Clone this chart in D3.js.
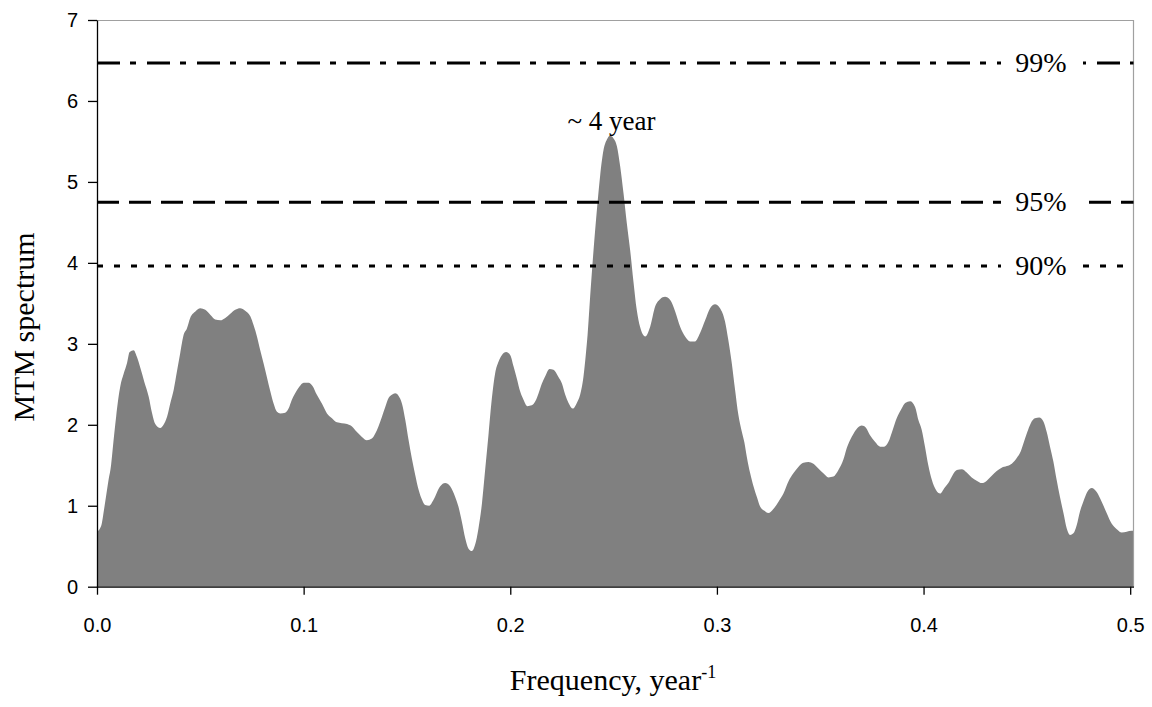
<!DOCTYPE html>
<html>
<head>
<meta charset="utf-8">
<script src="https://cdn.jsdelivr.net/npm/d3@7"></script>
<style>
  body { margin: 0; background: #fff; }
  .tick text { font-family: "Liberation Sans", Arial, sans-serif; font-size: 20px; fill: #000; }
  .serif { font-family: "Liberation Serif", "Times New Roman", serif; fill: #000; }
</style>
</head>
<body>
<div id="chart"></div>
<script>
// frequency (1/year) and MTM spectrum values
const freq = [
  0.0000, 0.0020, 0.0035, 0.0056, 0.0068, 0.0076, 0.0093, 0.0113, 0.0129, 0.0145,
  0.0158, 0.0177, 0.0193, 0.0210, 0.0229, 0.0250, 0.0266, 0.0282, 0.0306, 0.0322,
  0.0339, 0.0355, 0.0371, 0.0387, 0.0403, 0.0419, 0.0435, 0.0451, 0.0476, 0.0500,
  0.0524, 0.0548, 0.0572, 0.0597, 0.0621, 0.0645, 0.0669, 0.0693, 0.0717, 0.0742,
  0.0758, 0.0774, 0.0790, 0.0806, 0.0822, 0.0839, 0.0855, 0.0871, 0.0887, 0.0911,
  0.0927, 0.0943, 0.0959, 0.0979, 0.1000, 0.1024, 0.1043, 0.1064, 0.1089, 0.1113,
  0.1137, 0.1161, 0.1185, 0.1210, 0.1234, 0.1258, 0.1282, 0.1306, 0.1330, 0.1346,
  0.1362, 0.1379, 0.1395, 0.1411, 0.1427, 0.1443, 0.1459, 0.1476, 0.1492, 0.1508,
  0.1524, 0.1540, 0.1556, 0.1572, 0.1588, 0.1608, 0.1628, 0.1661, 0.1685, 0.1709,
  0.1733, 0.1749, 0.1766, 0.1782, 0.1798, 0.1814, 0.1830, 0.1846, 0.1863, 0.1879,
  0.1895, 0.1911, 0.1927, 0.1943, 0.1959, 0.1980, 0.2000, 0.2016, 0.2032, 0.2048,
  0.2064, 0.2083, 0.2104, 0.2121, 0.2137, 0.2153, 0.2169, 0.2190, 0.2209, 0.2233,
  0.2250, 0.2266, 0.2282, 0.2303, 0.2322, 0.2338, 0.2354, 0.2366, 0.2374, 0.2383,
  0.2403, 0.2419, 0.2435, 0.2451, 0.2467, 0.2483, 0.2499, 0.2516, 0.2532, 0.2548,
  0.2564, 0.2580, 0.2596, 0.2612, 0.2628, 0.2653, 0.2677, 0.2701, 0.2725, 0.2749,
  0.2774, 0.2798, 0.2822, 0.2846, 0.2870, 0.2894, 0.2918, 0.2943, 0.2967, 0.2991,
  0.3015, 0.3039, 0.3055, 0.3072, 0.3088, 0.3104, 0.3120, 0.3133, 0.3145, 0.3161,
  0.3177, 0.3193, 0.3209, 0.3228, 0.3249, 0.3273, 0.3298, 0.3322, 0.3346, 0.3370,
  0.3394, 0.3419, 0.3443, 0.3467, 0.3491, 0.3515, 0.3540, 0.3564, 0.3588, 0.3612,
  0.3628, 0.3644, 0.3661, 0.3680, 0.3701, 0.3722, 0.3741, 0.3765, 0.3790, 0.3809,
  0.3830, 0.3851, 0.3870, 0.3894, 0.3911, 0.3935, 0.3959, 0.3975, 0.3991, 0.4007,
  0.4023, 0.4040, 0.4061, 0.4080, 0.4101, 0.4120, 0.4141, 0.4161, 0.4185, 0.4209,
  0.4233, 0.4257, 0.4282, 0.4306, 0.4330, 0.4354, 0.4378, 0.4403, 0.4427, 0.4451,
  0.4470, 0.4486, 0.4502, 0.4519, 0.4539, 0.4560, 0.4580, 0.4596, 0.4612, 0.4628,
  0.4644, 0.4660, 0.4677, 0.4693, 0.4709, 0.4725, 0.4741, 0.4757, 0.4773, 0.4792,
  0.4814, 0.4838, 0.4862, 0.4886, 0.4910, 0.4935, 0.4959, 0.4983, 0.5007, 0.5016
]
const mtm = [
  0.68, 0.75, 0.97, 1.32, 1.50, 1.70, 2.11, 2.48, 2.63, 2.76,
  2.90, 2.92, 2.84, 2.70, 2.53, 2.35, 2.15, 2.01, 1.96, 2.00,
  2.10, 2.27, 2.43, 2.66, 2.89, 3.11, 3.19, 3.32, 3.40, 3.44,
  3.42, 3.36, 3.30, 3.29, 3.32, 3.37, 3.42, 3.44, 3.41, 3.34,
  3.23, 3.09, 2.92, 2.76, 2.59, 2.41, 2.26, 2.16, 2.14, 2.15,
  2.20, 2.31, 2.39, 2.47, 2.52, 2.52, 2.48, 2.37, 2.26, 2.14,
  2.08, 2.03, 2.02, 2.01, 1.98, 1.91, 1.85, 1.81, 1.83, 1.89,
  1.98, 2.10, 2.22, 2.33, 2.37, 2.39, 2.36, 2.26, 2.06, 1.81,
  1.58, 1.38, 1.20, 1.08, 1.01, 1.00, 1.07, 1.24, 1.28, 1.24,
  1.11, 0.99, 0.80, 0.60, 0.47, 0.44, 0.52, 0.72, 1.03, 1.46,
  1.89, 2.33, 2.64, 2.78, 2.86, 2.90, 2.86, 2.72, 2.57, 2.41,
  2.31, 2.23, 2.24, 2.29, 2.39, 2.51, 2.60, 2.69, 2.68, 2.59,
  2.51, 2.37, 2.27, 2.20, 2.27, 2.37, 2.59, 2.88, 3.11, 3.45,
  4.16, 4.65, 5.08, 5.39, 5.52, 5.57, 5.54, 5.44, 5.19, 4.86,
  4.49, 4.16, 3.77, 3.42, 3.21, 3.09, 3.21, 3.46, 3.55, 3.58,
  3.54, 3.40, 3.21, 3.09, 3.03, 3.03, 3.13, 3.29, 3.44, 3.49,
  3.44, 3.28, 3.05, 2.76, 2.43, 2.12, 1.92, 1.78, 1.60, 1.40,
  1.24, 1.11, 0.99, 0.94, 0.91, 0.96, 1.05, 1.15, 1.30, 1.40,
  1.48, 1.53, 1.54, 1.52, 1.46, 1.40, 1.35, 1.36, 1.44, 1.57,
  1.71, 1.81, 1.89, 1.96, 1.99, 1.96, 1.87, 1.79, 1.73, 1.73,
  1.79, 1.94, 2.08, 2.20, 2.27, 2.29, 2.22, 2.06, 1.94, 1.73,
  1.50, 1.32, 1.19, 1.15, 1.22, 1.28, 1.38, 1.44, 1.45, 1.41,
  1.35, 1.31, 1.28, 1.31, 1.37, 1.43, 1.47, 1.49, 1.52, 1.59,
  1.67, 1.79, 1.91, 2.02, 2.08, 2.09, 2.04, 1.91, 1.73, 1.55,
  1.32, 1.11, 0.91, 0.72, 0.64, 0.66, 0.76, 0.93, 1.05, 1.17,
  1.22, 1.17, 1.05, 0.91, 0.78, 0.71, 0.67, 0.68, 0.69, 0.69
]

// significance levels
const levelValues = [6.47, 4.75, 3.96]
const levelNames = ["99%", "95%", "90%"]

const xTicks = [0, 0.1, 0.2, 0.3, 0.4, 0.5]
const yTicks = [0, 1, 2, 3, 4, 5, 6, 7]

const peakFreq = 0.249
const peakText = "~ 4 year"

const w = 1152
const h = 707
const marg = { left: 97, right: 1133.5, top: 20, bottom: 586.7 }

const xScale = d3.scaleLinear()
    .domain([0, 0.5016])
    .range([marg.left, marg.right])

const yScale = d3.scaleLinear()
    .domain([0, 7])
    .range([marg.bottom, marg.top])

const svg = d3.select('#chart')
    .append('svg')
    .attr('width', w)
    .attr('height', h)

const points = freq.map((f, i) => ({ f: f, v: mtm[i] }))

// spectrum
const area = d3.area()
    .x(d => xScale(d.f))
    .y0(yScale(0))
    .y1(d => yScale(d.v))
    .curve(d3.curveMonotoneX)

svg.append('path')
    .datum(points)
    .attr('d', area)
    .attr('fill', '#808080')

// plot frame, top and right
svg.append('path')
    .attr('d', `M${marg.left},${marg.top + 0.5}H${marg.right}V${marg.bottom}`)
    .attr('fill', 'none')
    .attr('stroke', '#a0a0a0')
    .attr('stroke-width', 1.2)

// significance lines
const dashes = ["23,10,6,11", "22,10", "6,11"]
const labelX = 1041

levelValues.forEach((v, i) => {
    svg.append('line')
        .attr('x1', marg.left)
        .attr('x2', marg.right)
        .attr('y1', yScale(v))
        .attr('y2', yScale(v))
        .attr('stroke', '#000')
        .attr('stroke-width', 3)
        .attr('stroke-dasharray', dashes[i])
    svg.append('rect')
        .attr('x', labelX - 40)
        .attr('y', yScale(v) - 15)
        .attr('width', 82)
        .attr('height', 30)
        .attr('fill', '#fff')
    svg.append('text')
        .attr('class', 'serif')
        .attr('x', labelX)
        .attr('y', yScale(v) + 9)
        .attr('text-anchor', 'middle')
        .style('font-size', '28px')
        .text(levelNames[i])
})

svg.append('text')
    .attr('class', 'serif')
    .attr('x', xScale(peakFreq))
    .attr('y', yScale(d3.max(mtm)) - 6)
    .attr('text-anchor', 'middle')
    .style('font-size', '27px')
    .text(peakText)

// axes
const xAxis = d3.axisBottom(xScale)
    .tickValues(xTicks)
    .tickFormat(d3.format(".1f"))
    .tickSizeInner(8)
    .tickSizeOuter(0)
    .tickPadding(23)

const yAxis = d3.axisLeft(yScale)
    .tickValues(yTicks)
    .tickFormat(d3.format("d"))
    .tickSizeInner(9)
    .tickSizeOuter(0)
    .tickPadding(10)

svg.append('g')
    .attr('transform', `translate(0,${marg.bottom})`)
    .call(xAxis)
    .call(g => g.selectAll('path, line').attr('stroke', '#000').attr('stroke-width', 1.3))

svg.append('g')
    .attr('transform', `translate(${marg.left},0)`)
    .call(yAxis)
    .call(g => g.selectAll('path, line').attr('stroke', '#000').attr('stroke-width', 1.3))

// axis titles
const xTitle = svg.append('text')
    .attr('class', 'serif')
    .attr('x', 613)
    .attr('y', 690)
    .attr('text-anchor', 'middle')
    .style('font-size', '30px')
xTitle.append('tspan').text('Frequency, year')
xTitle.append('tspan')
    .attr('dy', -12)
    .style('font-size', '18px')
    .text('-1')

svg.append('text')
    .attr('class', 'serif')
    .attr('transform', 'translate(34,327) rotate(-90)')
    .attr('text-anchor', 'middle')
    .style('font-size', '30px')
    .text('MTM spectrum')
</script>
</body>
</html>
